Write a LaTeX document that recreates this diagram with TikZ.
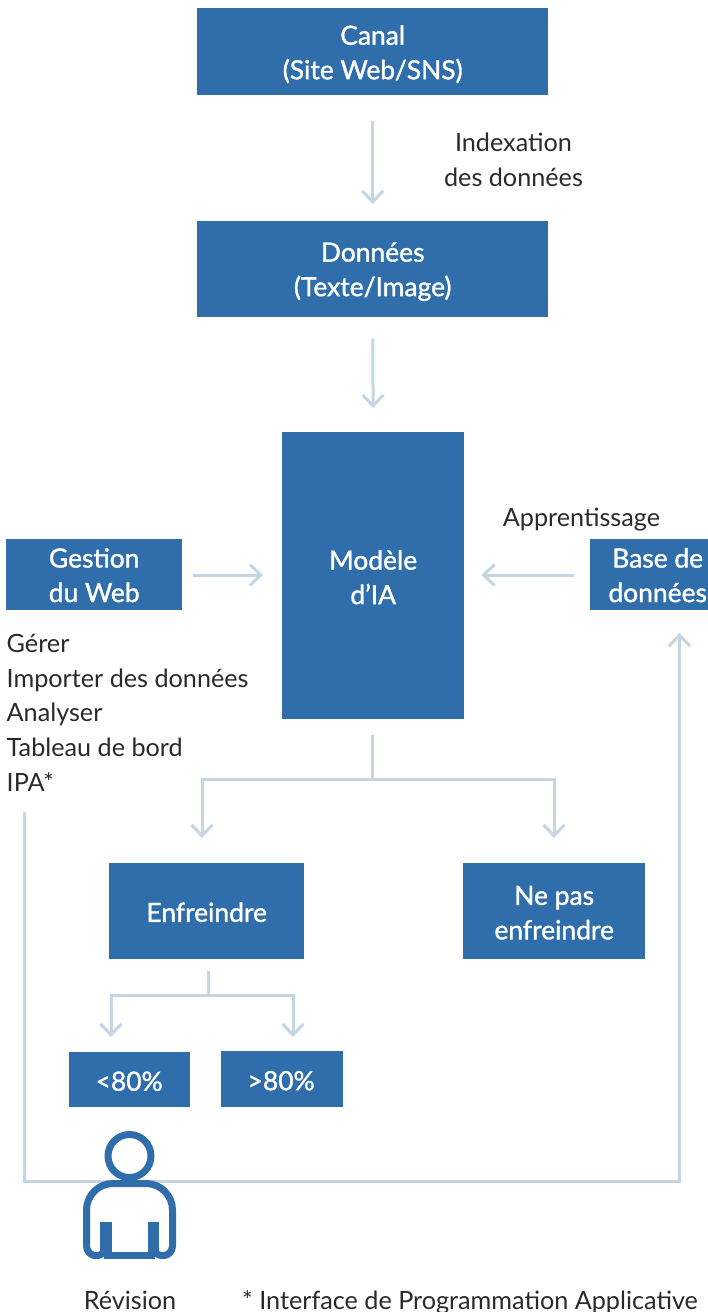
\documentclass[tikz,border=0pt]{standalone}
\usepackage{fontspec}
\setmainfont{Lato}
\newfontfamily\boxfont[RawFeature={embolden=1.3}]{Lato}
\usetikzlibrary{arrows.meta}
\definecolor{boxblue}{HTML}{2F6EAA}
\definecolor{linkblue}{HTML}{C5D6E2}
\definecolor{inkgrey}{HTML}{2A2A2A}
\tikzset{
  x=1pt,y=-1pt,
  bluebox/.style={fill=boxblue,inner sep=0pt},
  boxlabel/.style={text=white,align=center,inner sep=0pt,font=\boxfont\fontsize{26.4}{34.5}\selectfont},
  plain/.style={text=inkgrey,inner sep=0pt,font=\fontsize{25.2}{34.7}\selectfont},
  link/.style={draw=linkblue,line width=3pt,-{Straight Barb[length=11pt,width=21pt,line width=3pt]}},
  wire/.style={draw=linkblue,line width=3pt},
  person/.style={draw=boxblue,line width=7pt,fill=none}
}
\newcommand{\bx}[7]{\node[bluebox,minimum width=#4pt-#3pt,minimum height=#6pt-#5pt,anchor=north west,label={[boxlabel,#2]center:{#7}}] (#1) at (#3,#5) {};}
\begin{document}
\begin{tikzpicture}
\useasboundingbox (0,0) rectangle (708,1312);
\bx{canal}{yshift=-2.5pt}{197}{548}{8}{95}{Canal\\(Site Web/SNS)}
\bx{donnees}{yshift=-2.5pt}{197}{548}{221}{317}{Données\\(Texte/Image)}
\bx{modele}{yshift=-1.5pt}{282}{464}{432}{719}{Modèle\\d’IA}
\bx{gestion}{yshift=-0.5pt}{6}{182}{539}{610}{Gestion\\du Web}
\bx{base}{yshift=-0.5pt,xshift=8.5pt}{590}{708}{539}{610}{Base de\\données}
\bx{enfr}{yshift=-1pt}{109}{304}{863}{959}{Enfreindre}
\bx{nepas}{yshift=-1.5pt}{463}{645}{863}{959}{Ne pas\\enfreindre}
\bx{low}{yshift=-1.5pt,xshift=-0.5pt}{69}{190}{1052}{1107}{<80\%}
\bx{high}{yshift=-1.5pt,xshift=-1pt}{221}{343}{1051}{1107}{>80\%}

\node[plain,align=center] (index) at (513.5,160) {Indexation\\des données};
\node[plain] (appr) at (581.5,520) {Apprentissage};
\node[plain,align=left,anchor=north west] (list) at (6.5,634) {Gérer\\Importer des données\\Analyser\\Tableau de bord\\IPA*};
\node[plain] (rev) at (130,1300) {Révision};
\node[plain] (note) at (470,1302) {* Interface de Programmation Applicative};

\draw[link,shorten <=26pt,shorten >=17pt] (canal.south) -- (donnees.north);
\draw[link,shorten <=21pt,shorten >=24pt] (donnees.south) -- (modele.north);
\draw[link,shorten <=11pt,shorten >=19pt] (gestion.east |- 0,575) -- (modele.west |- 0,575);
\draw[link,shorten <=16pt,shorten >=17pt] (base.west |- 0,575) -- (modele.east |- 0,575);

\coordinate (split) at (372.5,779.5);
\coordinate (splitL) at (202,779.5);
\coordinate (splitR) at (554,779.5);
\draw[wire,shorten <=16pt] (modele.south -| split) -- (split);
\draw[wire,line cap=rect] (splitL) -- (splitR);
\draw[link,shorten >=25pt] (splitL) -- (splitL |- enfr.north);
\draw[link,shorten >=25pt] (splitR) -- (splitR |- nepas.north);

\coordinate (splitb) at (208,995);
\coordinate (splitbL) at (111,995);
\coordinate (splitbR) at (293,995);
\draw[wire,shorten <=12pt] (enfr.south -| splitb) -- (splitb);
\draw[wire,line cap=rect] (splitbL) -- (splitbR);
\draw[link,shorten >=15pt] (splitbL) -- (splitbL |- low.north);
\draw[link,shorten >=14pt] (splitbR) -- (splitbR |- high.north);

\coordinate (revStart) at (24.5,812);
\coordinate (revLow) at (24.5,1181.5);
\coordinate (revRight) at (679.5,1181.5);
\draw[link,shorten >=22.5pt,line join=miter] (revStart) -- (revLow) -- (revRight) -- (revRight |- base.south);

\draw[person] (129.5,1156) circle (21.5);
\draw[person,line join=round] (106,1226) -- (106,1246) arc[start angle=0,end angle=-180,x radius=9.75,y radius=-9.75] -- (86.5,1210) arc[start angle=180,end angle=90,x radius=26.5,y radius=-26.5] -- (146,1183.5) arc[start angle=90,end angle=0,x radius=26.5,y radius=-26.5] -- (172.5,1246) arc[start angle=0,end angle=-180,x radius=9.75,y radius=-9.75] -- (153,1226);
\draw[boxblue,line width=11.5pt] (106,1222) -- (106,1252);
\draw[boxblue,line width=11.5pt] (153.5,1222) -- (153.5,1252);
\draw[person] (104,1255.5) -- (155,1255.5);
\end{tikzpicture}
\end{document}
